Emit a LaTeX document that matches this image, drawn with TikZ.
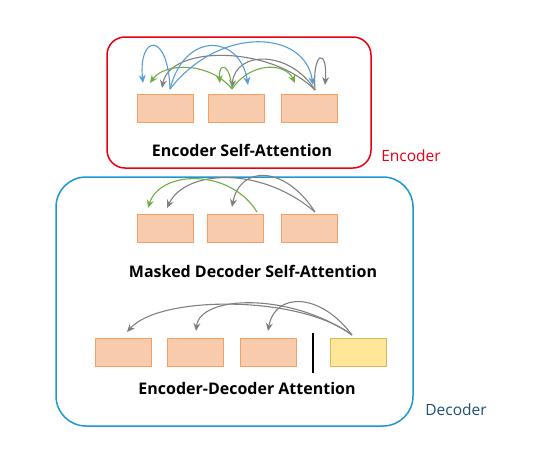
\documentclass[tikz,border=0pt]{standalone}
\usepackage{fontspec}
\setmainfont{Open Sans}
\usetikzlibrary{arrows.meta,calc}
\definecolor{encred}{RGB}{232,0,16}
\definecolor{decblue}{RGB}{30,150,210}
\definecolor{decname}{RGB}{31,78,121}
\definecolor{tokfill}{RGB}{248,203,173}
\definecolor{tokline}{RGB}{244,160,100}
\definecolor{qfill}{RGB}{255,230,153}
\definecolor{qline}{RGB}{214,182,86}
\definecolor{attblue}{RGB}{91,155,213}
\definecolor{attgreen}{RGB}{112,173,71}
\definecolor{attgray}{RGB}{128,128,128}
\begin{document}
\begin{tikzpicture}[x=1pt,y=-1pt,>={Stealth[length=8pt,width=7pt]},
  tok/.style={draw=tokline,fill=tokfill,line width=1pt,minimum width=56pt,minimum height=28pt,inner sep=0pt},
  qtok/.style={tok,draw=qline,fill=qfill},
  att/.style={->,line width=1.1pt},
  title/.style={font=\bfseries\fontsize{16}{19}\selectfont},
  side/.style={font=\fontsize{15.5}{18}\selectfont}]
          %\draw[help lines] (0,0) grid[step=20] (548,466);
          \useasboundingbox (0,0) rectangle (548,466);
          % frames
          \draw[encred,line width=1.5pt,rounded corners=18pt] (107,37) rectangle (371,168);
          \draw[decblue,line width=1.5pt,rounded corners=30pt] (56,177) rectangle (413,426);
          \node[side,encred] (enc) at (411,156) {Encoder};
          \node[side,decname] (dec) at (456,410) {Decoder};
          % encoder self-attention
          \node[tok] (e1) at (165,108.5) {};
          \node[tok] (e2) at (236,108.5) {};
          \node[tok] (e3) at (309.5,108.5) {};
          \node[title] (et) at (242,150) {Encoder Self-Attention};
          \coordinate (e1o) at (170,89);
          \coordinate (e2o) at (232,89);
          \coordinate (e3o) at (315,90);
          \coordinate (e1b) at (143,83);
          \coordinate (e1g) at (150,83);
          \coordinate (e1k) at (162,88);
          \coordinate (e2g) at (220,83);
          \coordinate (e2k) at (232,88);
          \coordinate (e2b) at (248,85);
          \coordinate (e3g) at (295,83);
          \coordinate (e3b) at (313,85);
          \coordinate (e3k) at (325,85);
          \draw[att,attgray] (e3o) .. controls (270,45) and (170,45) .. (e1k);
          \draw[att,attgray] (e3o) .. controls (290,50) and (235,50) .. (e2k);
          \draw[att,attgray] (e3o) .. controls (312,50) and (328,48) .. (e3k);
          \draw[att,attgreen] (e2o) .. controls (210,62) and (165,62) .. (e1g);
          \draw[att,attgreen] (e2o) .. controls (230,62) and (218,62) .. (e2g);
          \draw[att,attgreen] (e2o) .. controls (250,62) and (285,62) .. (e3g);
          \draw[att,attblue] (e1o) .. controls (168,30) and (138,35) .. (e1b);
          \draw[att,attblue] (e1o) .. controls (185,30) and (240,35) .. (e2b);
          \draw[att,attblue] (e1o) .. controls (220,25) and (305,30) .. (e3b);
          % masked decoder self-attention
          \node[tok] (m1) at (165.5,228) {};
          \node[tok] (m2) at (235.5,228) {};
          \node[tok] (m3) at (309.5,228) {};
          \node[title] (mt) at (253,271) {Masked Decoder Self-Attention};
          \coordinate (m2o) at (257,212);
          \coordinate (m3o) at (315,212);
          \coordinate (m1g) at (148,208);
          \coordinate (m1k) at (167,208);
          \coordinate (m2k) at (232,207);
          \draw[att,attgray] (m3o) .. controls (260,165) and (185,170) .. (m1k);
          \draw[att,attgray] (m3o) .. controls (285,165) and (240,165) .. (m2k);
          \draw[att,attgreen] (m2o) .. controls (230,168) and (160,170) .. (m1g);
          % encoder-decoder attention
          \node[tok] (d1) at (123.5,352) {};
          \node[tok] (d2) at (195,352) {};
          \node[tok] (d3) at (268,352) {};
          \node[qtok] (q) at (358,352) {};
          \node[title] (dt) at (247,388) {Encoder-Decoder Attention};
          \draw[line width=1.2pt] (313,333) -- (313,373);
          \coordinate (qo) at (352,335);
          \coordinate (d1k) at (127,332);
          \coordinate (d2k) at (196,331);
          \coordinate (d3k) at (268,331);
          \draw[att,attgray] (qo) .. controls (300,295) and (160,295) .. (d1k);
          \draw[att,attgray] (qo) .. controls (290,292) and (200,295) .. (d2k);
          \draw[att,attgray] (qo) .. controls (320,292) and (275,292) .. (d3k);
\end{tikzpicture}
\end{document}
